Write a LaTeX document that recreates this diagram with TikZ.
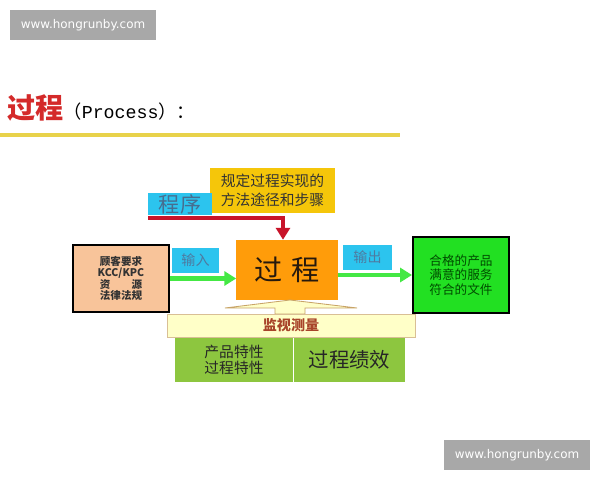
\documentclass[tikz,border=0pt]{standalone}
\usepackage{fontspec}
\setmainfont{Noto Sans CJK SC}
\newfontfamily\monofont{Liberation Mono}
\newfontfamily\wmfont{DejaVu Sans}
\usetikzlibrary{arrows.meta}

\definecolor{wmgray}{HTML}{A8A8A8}
\definecolor{titlered}{HTML}{D42A2A}
\definecolor{linegold}{HTML}{E8D24A}
\definecolor{peach}{HTML}{F8C49A}
\definecolor{tagblue}{HTML}{2CC4EE}
\definecolor{tagtext}{HTML}{4E7AA0}
\definecolor{procorange}{HTML}{FF9C0A}
\definecolor{notegold}{HTML}{F5C60A}
\definecolor{flowgreen}{HTML}{44E844}
\definecolor{outgreen}{HTML}{22E022}
\definecolor{darkred}{HTML}{C8142A}
\definecolor{paleyellow}{HTML}{FFFFC8}
\definecolor{tan}{HTML}{C8A468}
\definecolor{leafgreen}{HTML}{8DC63F}
\definecolor{brownred}{HTML}{A8442A}

\tikzset{
  wm/.style={fill=wmgray, text=white, font=\wmfont\fontsize{8.5}{10}\selectfont, minimum width=3.65cm, minimum height=0.75cm, inner sep=0pt},
  tag/.style={fill=tagblue, text=tagtext, inner sep=0pt, font=\fontsize{10}{12}\selectfont},
  box/.style={draw=black, line width=1.4pt, align=center, inner sep=0pt},
  flow/.style={draw=flowgreen, line width=3.5pt, -{Triangle[length=8.5pt,width=10pt]}},
  redflow/.style={draw=darkred, line width=3.5pt, -{Triangle[length=8.5pt,width=10pt]}},
}

\begin{document}
\begin{tikzpicture}[x=0.025cm,y=-0.025cm]
\useasboundingbox[fill=white] (0,0) rectangle (600,480);

%watermarks
\node[wm] (wmtop) at (83,25) {www.hongrunby.com};
\node[wm] (wmbottom) at (517,455) {www.hongrunby.com};

%title
\node[anchor=west, inner sep=0pt] (title) at (7,108) {{\color{titlered}\fontsize{20}{24}\selectfont\bfseries 过程}{\fontsize{13}{15}\selectfont （{\monofont Process}）：}};
\draw[line width=2.8pt, color=linegold] (0,135) -- (400,135);

%boxes
\node[box, fill=peach, minimum width=2.4cm, minimum height=1.675cm, font=\fontsize{7.5}{8.2}\selectfont\bfseries, text=black!80] (needs) at (121,278.5) {顾客要求\\KCC/KPC\\资\hspace{2em}源\\法律法规};
\node[fill=procorange, minimum width=2.525cm, minimum height=1.5cm, inner sep=0pt, font=\fontsize{20}{22}\selectfont, text=black!80!brown] (process) at (287,270) {过\hspace{6pt}程};
\node[box, fill=outgreen, minimum width=2.4cm, minimum height=1.9cm, font=\fontsize{9}{10.4}\selectfont, text=green!30!black] (output) at (461,275) {合格的产品\\满意的服务\\符合的文件};
\node[fill=notegold, minimum width=3.125cm, minimum height=1.125cm, inner sep=0pt, align=center, font=\fontsize{10.5}{13.5}\selectfont, text=black!80] (note) at (272.5,190.5) {规定过程实现的\\方法途径和步骤};

%tags
\node[tag, minimum width=1.6cm, minimum height=0.55cm, font=\fontsize{15}{17}\selectfont, text=tagtext!90!black] (progtag) at (180,204) {程序};
\node[tag, minimum width=1.175cm, minimum height=0.625cm] (intag) at (195.5,260.5) {输入};
\node[tag, minimum width=1.225cm, minimum height=0.625cm] (outtag) at (367.5,257.5) {输出};

%arrows
\coordinate (progstart) at (148,218);
\coordinate (progbend) at (283,218);
\draw[redflow] (progstart) -- (progbend) -- (progbend |- process.north);
\draw[flow] (needs.east) -- (needs.east -| process.west);
\draw[flow] (process.east |- output.west) -- (output.west);

%monitoring
\draw[fill=paleyellow, draw=tan, line width=0.6pt] (290,300) -- (357,308) -- (305,308) -- (305,314) -- (275,314) -- (275,308) -- (225,308) -- cycle;
\node[fill=paleyellow, draw=tan!70, line width=0.6pt, minimum width=6.2cm, minimum height=0.575cm, inner sep=0pt, text=brownred, font=\fontsize{10}{12}\selectfont\bfseries] (monitor) at (291,325.5) {监视测量};
\node[fill=leafgreen, minimum width=2.95cm, minimum height=1.1cm, inner sep=0pt, align=center, font=\fontsize{10.5}{11.5}\selectfont, text=black!85] (chars) at (234,360) {产品特性\\过程特性};
\node[fill=leafgreen, minimum width=2.775cm, minimum height=1.1cm, inner sep=0pt, font=\fontsize{14.5}{16}\selectfont, text=black!85] (perf) at (349.5,360) {过程绩效};
\end{tikzpicture}
\end{document}
